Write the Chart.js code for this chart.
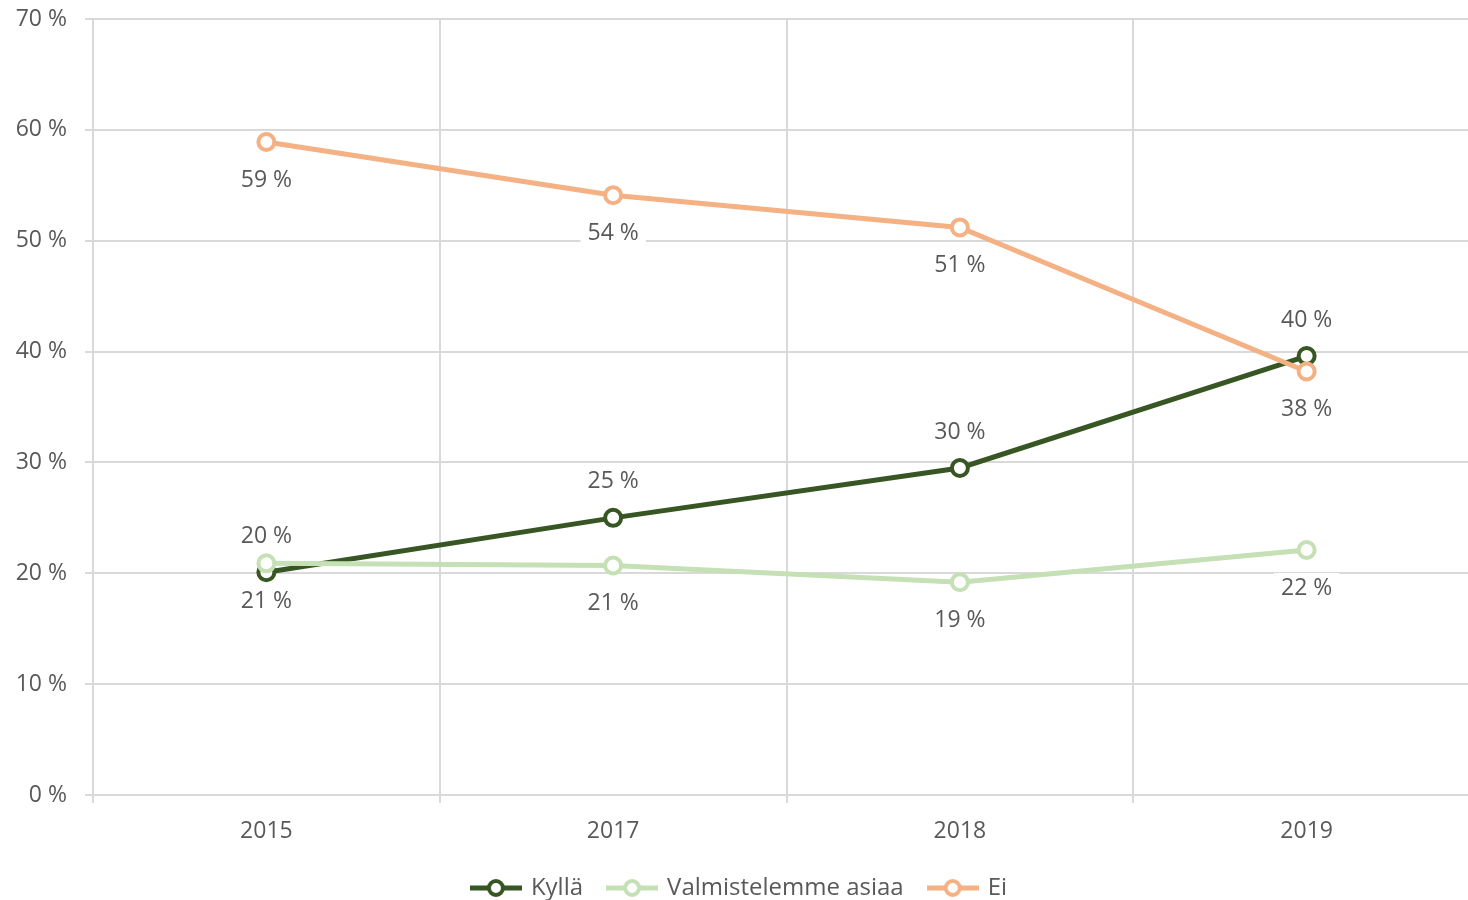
<!DOCTYPE html>
<html>
<head>
<meta charset="utf-8">
<script src="https://cdn.jsdelivr.net/npm/chart.js@4"></script>
<style>
  html, body { margin: 0; padding: 0; background: #fff; overflow: hidden; }
  #wrap { width: 1468px; height: 900px; overflow: hidden; position: relative; }
  #myChart { position: absolute; left: 0; top: 0; width: 1482px; height: 900px; }
</style>
</head>
<body>
<div id="wrap"><canvas id="myChart" width="1482" height="900"></canvas></div>
<script>
var vuodet = ['2015', '2017', '2018', '2019'];
var kylla = [20.1, 25.0, 29.5, 39.6];
var valmistelemme = [20.9, 20.7, 19.2, 22.1];
var ei = [58.9, 54.1, 51.2, 38.2];
var kyllaLabels = ['20 %', '25 %', '30 %', '40 %'];
var valmLabels = ['21 %', '21 %', '19 %', '22 %'];
var eiLabels = ['59 %', '54 %', '51 %', '38 %'];

var fontti = '"Open Sans", "Noto Sans", sans-serif';
var harmaa = '#595959';
var ruudukko = '#d9d9d9';
var koko = 23;

// pieni kuva legendaan: viiva + ympyra
function legendKuva(vari) {
  var c = document.createElement('canvas');
  c.width = 52; c.height = 22;
  var g = c.getContext('2d');
  g.strokeStyle = vari;
  g.lineWidth = 5;
  g.beginPath(); g.moveTo(0, 11); g.lineTo(52, 11); g.stroke();
  g.beginPath(); g.arc(26, 11, 7, 0, Math.PI * 2);
  g.fillStyle = '#fff'; g.fill();
  g.lineWidth = 4; g.stroke();
  return c;
}

var arvoLabels = {
  id: 'arvoLabels',
  beforeDatasetsDraw: function(chart) {
    var ctx = chart.ctx;
    ctx.save();
    ctx.font = koko + 'px ' + fontti;
    ctx.textAlign = 'center';
    ctx.textBaseline = 'middle';
    chart.data.datasets.forEach(function(ds, i) {
      var meta = chart.getDatasetMeta(i);
      meta.data.forEach(function(p, j) {
        var txt = ds.tekstit[j];
        var y = p.y + ds.siirto;
        var w = ctx.measureText(txt).width + 14;
        ctx.fillStyle = '#fff';
        ctx.fillRect(p.x - w / 2, y - 15, w, 30);
        ctx.fillStyle = harmaa;
        ctx.fillText(txt, p.x, y);
      });
    });
    ctx.restore();
  }
};

function sarja(nimi, data, vari, tekstit, siirto, jarj) {
  return {
    label: nimi,
    data: data,
    borderColor: vari,
    backgroundColor: '#fff',
    borderWidth: 5,
    pointRadius: 8,
    pointHoverRadius: 8,
    pointBorderWidth: 4,
    pointBackgroundColor: '#fff',
    pointBorderColor: vari,
    tension: 0,
    tekstit: tekstit,
    siirto: siirto,
    order: jarj
  };
}

var ctx = document.getElementById('myChart').getContext('2d');
new Chart(ctx, {
  type: 'line',
  data: {
    labels: vuodet,
    datasets: [
      sarja('Kyllä', kylla, '#375623', kyllaLabels, -36, 3),
      sarja('Valmistelemme asiaa', valmistelemme, '#c5e0b4', valmLabels, 38, 2),
      sarja('Ei', ei, '#f4b183', eiLabels, 38, 1)
    ]
  },
  plugins: [arvoLabels],
  options: {
    responsive: false,
    animation: false,
    layout: { autoPadding: false, padding: { top: 19, left: 0, right: 2, bottom: -10 } },
    plugins: {
      tooltip: { enabled: false },
      legend: {
        position: 'bottom',
        labels: {
          font: { family: fontti, size: 24 },
          color: harmaa,
          usePointStyle: true,
          pointStyleWidth: 46,
          padding: 26,
          generateLabels: function(chart) {
            return chart.data.datasets.map(function(ds, i) {
              return {
                text: ds.label,
                pointStyle: legendKuva(ds.borderColor),
                fillStyle: '#fff',
                strokeStyle: ds.borderColor,
                lineWidth: 0,
                fontColor: harmaa,
                datasetIndex: i,
                hidden: false
              };
            });
          }
        }
      }
    },
    scales: {
      x: {
        offset: true,
        grid: { offset: true, color: ruudukko, lineWidth: 2, tickLength: 8 },
        border: { color: ruudukko, width: 2 },
        ticks: { color: harmaa, font: { family: fontti, size: koko }, padding: 15 },
        afterFit: function(s) { s.height = 55; }
      },
      y: {
        min: 0,
        max: 70,
        ticks: {
          stepSize: 10,
          color: harmaa,
          font: { family: fontti, size: koko },
          padding: 18,
          callback: function(v) { return v + ' %'; }
        },
        grid: { color: ruudukko, lineWidth: 2, tickLength: 8 },
        border: { display: false },
        afterFit: function(s) {
          s.width = 93;
          s.paddingTop = 0;
          s.paddingBottom = 0;
        }
      }
    }
  }
});
</script>
</body>
</html>
